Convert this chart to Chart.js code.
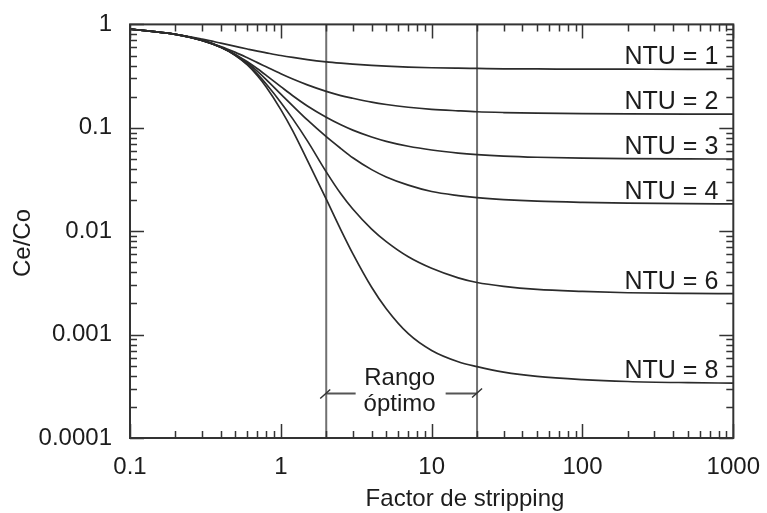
<!DOCTYPE html>
<html><head><meta charset="utf-8">
<script src="https://cdn.jsdelivr.net/npm/chart.js@4.4.1/dist/chart.umd.min.js"></script>
<style>html,body{margin:0;padding:0;background:#fff}canvas{display:block}</style>
</head><body>
<canvas id="c" width="767" height="513"></canvas>
<script>
// ---- data ----
const stripFactor = [0.1, 0.2, 0.3, 0.4, 0.5, 0.6, 0.7, 0.8, 1, 1.2, 1.5, 2, 2.5, 3, 4, 5, 7, 10, 15, 20, 30, 50, 100, 200, 500, 1000];
const ntu1 = [0.900, 0.803, 0.721, 0.659, 0.613, 0.578, 0.551, 0.531, 0.500, 0.479, 0.457, 0.435, 0.422, 0.413, 0.402, 0.395, 0.387, 0.381, 0.377, 0.375, 0.372, 0.371, 0.369, 0.3686, 0.368, 0.368];
const ntu2 = [0.900, 0.800, 0.702, 0.612, 0.536, 0.475, 0.427, 0.389, 0.333, 0.296, 0.260, 0.225, 0.205, 0.193, 0.177, 0.168, 0.158, 0.151, 0.146, 0.143, 0.1405, 0.1384, 0.1369, 0.1361, 0.1356, 0.1355];
const ntu3 = [0.900, 0.800, 0.700, 0.603, 0.513, 0.435, 0.372, 0.3215, 0.250, 0.204, 0.1625, 0.1265, 0.107, 0.095, 0.0815, 0.074, 0.0663, 0.061, 0.057, 0.0551, 0.0533, 0.0519, 0.0508, 0.0503, 0.0500, 0.0499];
const ntu4 = [0.900, 0.800, 0.700, 0.601, 0.507, 0.423, 0.351, 0.293, 0.212, 0.163, 0.119, 0.082, 0.063, 0.0513, 0.0394, 0.0335, 0.0279, 0.0242, 0.0221, 0.0211, 0.0202, 0.0195, 0.0190, 0.0187, 0.01845, 0.0184];
const ntu6 = [0.900, 0.800, 0.700, 0.600, 0.502, 0.411, 0.331, 0.265, 0.176, 0.122, 0.0748, 0.0375, 0.0230, 0.01638, 0.01048, 0.00793, 0.00566, 0.00438, 0.00354, 0.00319, 0.00293, 0.00274, 0.00262, 0.00254, 0.00250, 0.00249];
const ntu8 = [0.900, 0.800, 0.700, 0.600, 0.500, 0.405, 0.319, 0.248, 0.150, 0.0933, 0.0483, 0.0204, 0.01031, 0.00607, 0.00287, 0.00178, 0.00102, 0.000702, 0.000546, 0.000490, 0.000434, 0.000394, 0.000367, 0.000352, 0.000343, 0.000339];
const seriesList = [ntu1, ntu2, ntu3, ntu4, ntu6, ntu8];
const seriesNames = ['NTU = 1', 'NTU = 2', 'NTU = 3', 'NTU = 4', 'NTU = 6', 'NTU = 8'];
const xTickValues = [0.1, 1, 10, 100, 1000];
const xTickLabels = ['0.1', '1', '10', '100', '1000'];
const yTickValues = [0.0001, 0.001, 0.01, 0.1, 1];
const yTickLabels = ['0.0001', '0.001', '0.01', '0.1', '1'];
const optimalRange = [2, 20];
const optimalArrowLevel = 0.00027;
const rangeText = ['Rango', 'óptimo'];
const xTitle = 'Factor de stripping';
const yTitle = 'Ce/Co';

// ---- styling ----
const FONT = '"Liberation Sans", Arial, Helvetica, sans-serif';
const TXT = '#1c1c1c';

const curveSets = seriesList.map((s, i) => ({
  label: seriesNames[i],
  data: stripFactor.map((x, k) => ({x: x, y: s[k]})),
  borderColor: '#2b2b2b',
  borderWidth: 1.7,
  pointRadius: 0,
  cubicInterpolationMode: 'monotone',
  fill: false
}));
const rangeSets = optimalRange.map(v => ({
  label: 'range' + v,
  data: [{x: v, y: yTickValues[0]}, {x: v, y: yTickValues[yTickValues.length - 1]}],
  borderColor: '#707070',
  borderWidth: 2,
  pointRadius: 0,
  fill: false
}));

const deco = {
  id: 'deco',
  afterDatasetsDraw(chart) {
    const {ctx, chartArea: a, scales: {x, y}} = chart;
    ctx.save();
    // inward ticks on all four sides
    ctx.strokeStyle = '#333';
    ctx.lineWidth = 1.5;
    ctx.beginPath();
    const lastX = xTickValues.length - 1;
    xTickValues.forEach((base, i) => {
      const ms = i === lastX ? [1] : [1, 2, 3, 4, 5, 6, 7, 8, 9];
      ms.forEach(m => {
        const px = Math.round(x.getPixelForValue(base * m)) + 0.5;
        const len = m === 1 ? 14 : 7;
        ctx.moveTo(px, a.bottom); ctx.lineTo(px, a.bottom - len);
        ctx.moveTo(px, a.top); ctx.lineTo(px, a.top + len);
      });
    });
    const lastY = yTickValues.length - 1;
    yTickValues.forEach((base, i) => {
      const ms = i === lastY ? [1] : [1, 2, 3, 4, 5, 6, 7, 8, 9];
      ms.forEach(m => {
        const py = Math.round(y.getPixelForValue(base * m)) + 0.5;
        const len = m === 1 ? 14 : 7;
        ctx.moveTo(a.left, py); ctx.lineTo(a.left + len, py);
        ctx.moveTo(a.right, py); ctx.lineTo(a.right - len, py);
      });
    });
    ctx.stroke();
    // frame
    ctx.lineWidth = 2;
    ctx.strokeStyle = '#333';
    ctx.strokeRect(a.left, a.top, a.right - a.left, a.bottom - a.top);

    // NTU labels
    ctx.fillStyle = TXT;
    ctx.font = '25px ' + FONT;
    ctx.textAlign = 'right';
    ctx.textBaseline = 'alphabetic';
    seriesList.forEach((s, i) => {
      const py = y.getPixelForValue(s[s.length - 1]);
      ctx.fillText(seriesNames[i], a.right - 15, py - 5);
    });

    // optimum range annotation
    ctx.font = '24px ' + FONT;
    const x1 = x.getPixelForValue(optimalRange[0]);
    const x2 = x.getPixelForValue(optimalRange[1]);
    const ay = Math.round(y.getPixelForValue(optimalArrowLevel)) + 0.5;
    const cx = (x1 + x2) / 2 - 2;
    ctx.strokeStyle = '#555';
    ctx.lineWidth = 2;
    ctx.beginPath();
    ctx.moveTo(x1, ay); ctx.lineTo(cx - 44, ay);
    ctx.moveTo(cx + 46, ay); ctx.lineTo(x2, ay);
    ctx.stroke();
    ctx.strokeStyle = '#333';
    ctx.lineWidth = 1.5;
    ctx.beginPath();
    ctx.moveTo(x1 - 6, ay + 5); ctx.lineTo(x1 + 4, ay - 4);
    ctx.moveTo(x2 - 5, ay + 4); ctx.lineTo(x2 + 5, ay - 5);
    ctx.stroke();
    ctx.textAlign = 'center';
    ctx.fillText(rangeText[0], cx, ay - 9);
    ctx.fillText(rangeText[1], cx, ay + 17);

    // axis titles
    ctx.fillText(xTitle, 465, 506);
    ctx.save();
    ctx.translate(30, 243);
    ctx.rotate(-Math.PI / 2);
    ctx.textAlign = 'center';
    ctx.fillText(yTitle, 0, 0);
    ctx.restore();
    ctx.restore();
  }
};

new Chart(document.getElementById('c'), {
  type: 'line',
  data: {datasets: curveSets.concat(rangeSets)},
  plugins: [deco],
  options: {
    responsive: false,
    animation: false,
    devicePixelRatio: 1,
    layout: {padding: {left: 0, right: 29, top: 20, bottom: 0}},
    plugins: {legend: {display: false}, tooltip: {enabled: false}, title: {display: false}},
    scales: {
      x: {
        type: 'logarithmic',
        min: xTickValues[0],
        max: xTickValues[xTickValues.length - 1],
        afterBuildTicks: s => { s.ticks = xTickValues.map(v => ({value: v})); },
        afterFit: s => { s.height = 75; },
        grid: {display: false},
        border: {display: false},
        ticks: {
          autoSkip: false, maxRotation: 0, padding: 7,
          color: TXT, font: {family: FONT, size: 24},
          callback: (v, i) => xTickLabels[i]
        }
      },
      y: {
        type: 'logarithmic',
        min: yTickValues[0],
        max: yTickValues[yTickValues.length - 1],
        afterBuildTicks: s => { s.ticks = yTickValues.map(v => ({value: v})); },
        afterFit: s => { s.width = 130; },
        grid: {display: false},
        border: {display: false},
        ticks: {
          autoSkip: false, padding: 10,
          color: TXT, font: {family: FONT, size: 24},
          callback: (v, i) => yTickLabels[i]
        }
      }
    }
  }
});
</script>
</body></html>
